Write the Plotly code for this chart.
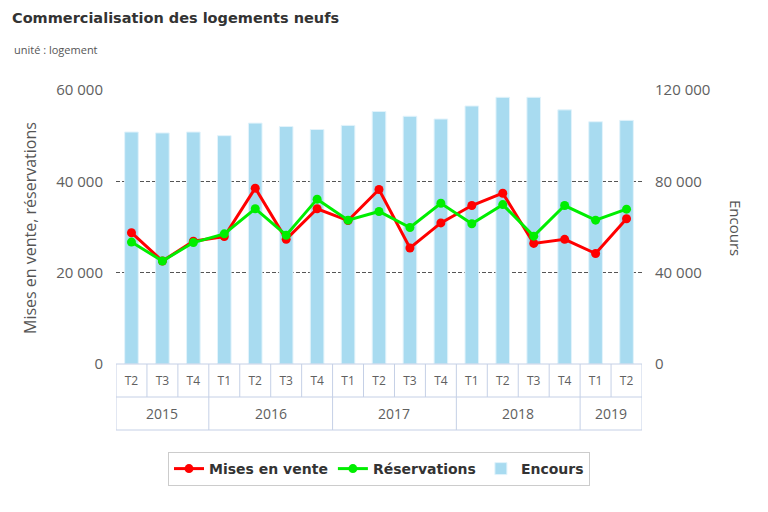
import plotly.graph_objects as go

years = ["2015"]*3 + ["2016"]*4 + ["2017"]*4 + ["2018"]*4 + ["2019"]*2
quarters = ["T2","T3","T4","T1","T2","T3","T4","T1","T2","T3","T4","T1","T2","T3","T4","T1","T2"]
mises_en_vente = [28750, 22550, 26900, 27900, 38500, 27300, 34000, 31400, 38200, 25400, 30900, 34700, 37400, 26400, 27300, 24200, 31800]
reservations = [26700, 22550, 26600, 28500, 34000, 28200, 36100, 31500, 33400, 29900, 35200, 30700, 34900, 28000, 34700, 31500, 33900]
encours = [101600, 101200, 101600, 100000, 105500, 104000, 102700, 104500, 110600, 108500, 107300, 113000, 116800, 116800, 111300, 106100, 106700]
left_ticks = [0, 20000, 40000, 60000]
left_ticktext = ["0", "20 000", "40 000", "60 000"]
right_ticks = [0, 40000, 80000, 120000]
right_ticktext = ["0", "40 000", "80 000", "120 000"]

cats = [f"{y} {q}" for y, q in zip(years, quarters)]

fig = go.Figure()
fig.add_trace(go.Bar(x=cats, y=encours, name="Encours", yaxis="y",
                     marker=dict(color="#a8dbf0", line=dict(color="#e2f3fb", width=1)),
                     width=0.44, legendrank=3))
fig.add_trace(go.Scatter(x=cats, y=mises_en_vente, name="Mises en vente", yaxis="y2",
                         mode="lines+markers", line=dict(color="#ff0000", width=3),
                         marker=dict(size=9, color="#ff0000"), legendrank=1))
fig.add_trace(go.Scatter(x=cats, y=reservations, name="Réservations", yaxis="y2",
                         mode="lines+markers", line=dict(color="#00ee00", width=3),
                         marker=dict(size=9, color="#00ee00"), legendrank=2))

tick_font = dict(family="Open Sans, DejaVu Sans", size=15, color="#606060")
border = "#c5d0e6"
ph = 274.0  # plot height in px
fig.update_layout(
    width=768, height=512, paper_bgcolor="white", plot_bgcolor="white",
    margin=dict(l=116, r=126, t=90, b=148, autoexpand=False),
    showlegend=True,
    legend=dict(orientation="h", x=0.5, xanchor="center", y=(364-452)/ph, yanchor="top",
                bordercolor="#cccccc", borderwidth=1, bgcolor="white",
                font=dict(family="DejaVu Sans", size=14, color="#333333", weight="bold"),
                traceorder="normal", itemwidth=30),
    xaxis=dict(type="category", tickvals=cats, ticktext=quarters, range=[-0.5, len(cats)-0.5],
               tickfont=dict(family="Open Sans, DejaVu Sans", size=12, color="#606060"),
               showline=False, ticks="", ticklabelstandoff=8,
               showgrid=False, zeroline=False, automargin=False),
    yaxis=dict(side="right", range=[0, 120000], tickvals=right_ticks, ticktext=right_ticktext,
               tickfont=tick_font, showgrid=False, zeroline=False, ticklabelstandoff=12,
               automargin=False),
    yaxis2=dict(side="left", overlaying="y", range=[0, 60000], tickvals=left_ticks,
                ticktext=left_ticktext, tickfont=tick_font, showgrid=True, gridcolor="#555555",
                griddash="4px,2px", gridwidth=1, zeroline=False, automargin=False,
                ticklabelstandoff=12),
    title=dict(text="<b>Commercialisation des logements neufs</b>", x=12/768, xanchor="left",
               y=1-18/512, yanchor="middle",
               font=dict(family="DejaVu Sans", size=14.5, color="#333333")),
)
fig.add_annotation(text="unité : logement", xref="paper", yref="paper", x=(12-116)/526, y=(364-50)/ph,
                   xanchor="left", yanchor="middle", showarrow=False,
                   font=dict(family="Open Sans, DejaVu Sans", size=11, color="#555555"))
fig.add_annotation(text="Mises en vente, réservations", xref="paper", yref="paper",
                   x=(30-116)/526, y=(364-228)/ph, textangle=-90, showarrow=False,
                   xanchor="center", yanchor="middle",
                   font=dict(family="Open Sans, DejaVu Sans", size=16, color="#555555"))
fig.add_annotation(text="Encours", xref="paper", yref="paper", x=(736-116)/526, y=(364-228)/ph,
                   textangle=90, showarrow=False, xanchor="center", yanchor="middle",
                   font=dict(family="Open Sans, DejaVu Sans", size=15, color="#555555"))

# year labels and table borders
y_row1 = (364-397)/ph
y_row2 = (364-430)/ph
groups = []
for i, yv in enumerate(years):
    if not groups or groups[-1][0] != yv:
        groups.append([yv, i, i])
    else:
        groups[-1][2] = i
for yv, a, b in groups:
    fig.add_annotation(text=yv, xref="x", yref="paper", x=(a+b)/2, y=(y_row1+y_row2)/2,
                       showarrow=False, yanchor="middle",
                       font=dict(family="Open Sans, DejaVu Sans", size=14, color="#606060"))
for p in [364, 397, 430]:
    fig.add_shape(type="line", xref="paper", yref="paper", x0=0, x1=1,
                  y0=(364-p)/ph, y1=(364-p)/ph, line=dict(color=border, width=1))
for i in range(len(cats)+1):
    bottom = y_row1
    if i == 0 or i == len(cats) or years[i] != years[i-1]:
        bottom = y_row2
    fig.add_shape(type="line", xref="x", yref="paper", x0=i-0.5, x1=i-0.5,
                  y0=0, y1=bottom, line=dict(color=border, width=1))

fig.write_html("out.html", config={"displayModeBar": False},
               post_script="document.body.style.margin='0';")
